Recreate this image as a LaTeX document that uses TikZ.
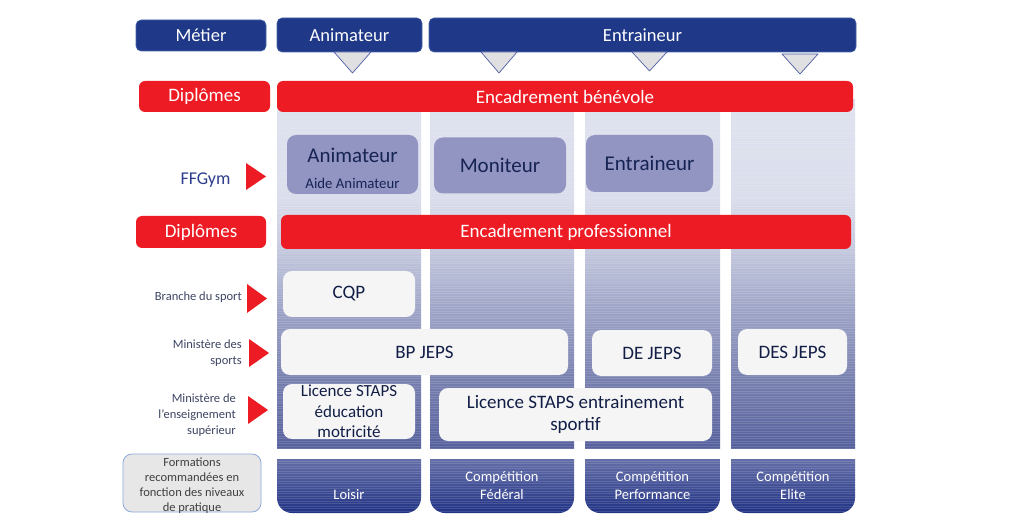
\documentclass[tikz,border=0pt]{standalone}
\usepackage{fontspec}
\setmainfont{Carlito}
\definecolor{navy}{RGB}{31,56,135}
\definecolor{navyedge}{RGB}{70,100,170}
\definecolor{redc}{RGB}{237,28,36}
\definecolor{lav}{RGB}{146,148,194}
\definecolor{fftext}{RGB}{22,36,84}
\definecolor{wfill}{RGB}{245,245,245}
\definecolor{wtext}{RGB}{18,30,70}
\definecolor{sidetext}{RGB}{62,70,100}
\definecolor{fftitle}{RGB}{46,62,140}
\definecolor{trifill}{RGB}{224,224,226}
\definecolor{triedge}{RGB}{80,96,165}
\definecolor{formfill}{RGB}{231,231,231}
\definecolor{formedge}{RGB}{143,170,220}
\definecolor{formtext}{RGB}{64,64,64}
\definecolor{colG}{RGB}{222,225,238}
\definecolor{colF}{RGB}{218,221,235}
\definecolor{colE}{RGB}{198,202,223}
\definecolor{colD}{RGB}{158,164,199}
\definecolor{colC}{RGB}{120,128,175}
\definecolor{colB}{RGB}{86,96,157}
\definecolor{botTop}{RGB}{100,110,168}
\definecolor{botBot}{RGB}{32,50,132}
\pgfdeclareverticalshading{colshade}{100bp}{color(0bp)=(colB); color(25bp)=(colB); color(35bp)=(colC); color(45bp)=(colD); color(54bp)=(colE); color(61bp)=(colF); color(75bp)=(colG); color(100bp)=(colG)}
\pgfdeclareverticalshading{botshade}{100bp}{color(0bp)=(botBot); color(25bp)=(botBot); color(75bp)=(botTop); color(100bp)=(botTop)}
\tikzset{
  bluebox/.style={fill=navy, draw=navyedge, line width=0.6pt, rounded corners=5pt, text=white, font=\fontsize{18.5}{22}\selectfont, inner sep=0pt},
  redbox/.style={fill=redc, rounded corners=6pt, text=white, font=\fontsize{19}{22}\selectfont, inner sep=0pt},
  ffbox/.style={fill=lav, rounded corners=9pt, text=fftext, font=\fontsize{21}{24}\selectfont, inner sep=0pt},
  fftxt/.style={text=fftext, inner sep=0pt},
  wbox/.style={fill=wfill, rounded corners=9pt, text=wtext, font=\fontsize{19}{22.7}\selectfont, inner sep=0pt, align=center},
  sidelab/.style={text=sidetext, font=\fontsize{12.5}{16}\selectfont, align=right, anchor=east, inner sep=0pt},
  rtri/.style={fill=redc},
  dtri/.style={fill=trifill, draw=triedge, line width=0.7pt, line join=round},
  colbar/.style={shading=colshade, inner sep=0pt},
  botbar/.style={shading=botshade},
  stripe/.style={white, opacity=0.13, line width=0.6pt},
  lvl/.style={text=white, font=\fontsize{14.5}{18}\selectfont, align=center, inner sep=0pt},
  formbox/.style={fill=formfill, draw=formedge, line width=0.8pt, rounded corners=9pt, inner sep=0pt},
  formtxt/.style={text=formtext, font=\fontsize{12.5}{15}\selectfont, align=center, inner sep=0pt}
}
\begin{document}
\begin{tikzpicture}[x=1pt,y=-1pt]
\useasboundingbox (0,0) rectangle (1020,521);
\fill[white] (0,0) rectangle (1020,521);
% columns
\node[colbar, minimum width=144pt, minimum height=348pt] (col1) at (349,274) {};
\node[colbar, minimum width=144pt, minimum height=348pt] (col2) at (502,274) {};
\node[colbar, minimum width=135pt, minimum height=348pt] (col3) at (652.5,274) {};
\node[colbar, minimum width=124pt, minimum height=348pt] (col4) at (793,274) {};
% bottom level boxes
\foreach \a/\b in {277/421,430/574,585/720,731/855}{
  \shade[botbar] (\a,459) -- (\a,498) .. controls (\a,506.3) and ({\a+6.7},513) .. ({\a+15},513) -- ({\b-15},513) .. controls ({\b-6.7},513) and (\b,506.3) .. (\b,498) -- (\b,459) -- cycle;
}
% horizontal line texture
\foreach \y in {101,103.5,...,513}{
  \draw[stripe] (277,\y) -- (855,\y);
}
\node[lvl] (l1) at (349,495) {Loisir};
\node[lvl] (l2) at (502,486) {Compétition\\Fédéral};
\node[lvl] (l3) at (652.5,486) {Compétition\\Performance};
\node[lvl] (l4) at (793,485.5) {Compétition\\Elite};
% top row
\node[bluebox, minimum width=130pt, minimum height=31pt] (metier) at (201,35.5) {Métier};
\node[bluebox, minimum width=145pt, minimum height=34pt] (animT) at (349.5,35) {Animateur};
\node[bluebox, minimum width=427pt, minimum height=34pt] (entrT) at (642.5,35) {Entraineur};
\draw[dtri] (334,52) -- (371,52) -- (352.5,73) -- cycle;
\draw[dtri] (481,52) -- (517,52) -- (499,73) -- cycle;
\draw[dtri] (632,52) -- (667,52) -- (649.5,71) -- cycle;
\draw[dtri] (782,54) -- (818,54) -- (800,74) -- cycle;
% red bars
\node[redbox, minimum width=131pt, minimum height=31pt] (dip1) at (204.5,96.5) {Diplômes};
\node[redbox, minimum width=576pt, minimum height=31pt] (bene) at (565,96.5) {Encadrement bénévole};
\node[redbox, minimum width=130pt, minimum height=32pt] (dip2) at (201,232) {Diplômes};
\node[redbox, minimum width=570pt, minimum height=34pt] (pro) at (566,232) {Encadrement professionnel};
% FFGym row
\node[text=fftitle, font=\fontsize{18}{20}\selectfont, inner sep=0pt] (ffg) at (205.5,180) {FFGym};
\fill[rtri] (246,163) -- (266,176.5) -- (246,190) -- cycle;
\node[ffbox, minimum width=131pt, minimum height=59pt] (ffa) at (352.5,164.5) {};
\node[fftxt, font=\fontsize{21}{24}\selectfont] (ffaT) at (352.5,155) {Animateur};
\node[fftxt, font=\fontsize{14.8}{17}\selectfont] (ffaS) at (352.5,183.5) {Aide Animateur};
\node[ffbox, minimum width=132pt, minimum height=56pt] (ffm) at (500,165.5) {Moniteur};
\node[ffbox, minimum width=127pt, minimum height=57pt] (ffe) at (649.5,163.5) {Entraineur};
% side labels
\node[sidelab] (lbr) at (242,297) {Branche du sport};
\fill[rtri] (247,284) -- (267,298.5) -- (247,313) -- cycle;
\node[sidelab] (lms) at (242,353) {Ministère des\\sports};
\fill[rtri] (249,339) -- (269,353) -- (249,367) -- cycle;
\node[sidelab] (lme) at (236,415) {Ministère de\\l’enseignement\\supérieur};
\fill[rtri] (248,396) -- (268,410) -- (248,424) -- cycle;
% diploma boxes
\node[wbox, minimum width=132pt, minimum height=46pt] (cqp) at (349,294) {CQP};
\node[wbox, minimum width=287pt, minimum height=46pt] (bp) at (424.5,352) {BP JEPS};
\node[wbox, minimum width=120pt, minimum height=46pt] (de) at (652,353) {DE JEPS};
\node[wbox, minimum width=109pt, minimum height=46pt] (des) at (792.5,352) {DES JEPS};
\node[wbox, font=\fontsize{17}{20.5}\selectfont, minimum width=132pt, minimum height=55pt] (lic1) at (349,411.5) {Licence STAPS\\éducation\\motricité};
\node[wbox, minimum width=273pt, minimum height=53pt] (lic2) at (575.5,414.5) {Licence STAPS entrainement\\sportif};
% formations box
\node[formbox, minimum width=138pt, minimum height=58pt] (form) at (192,483) {};
\node[formtxt] (formT) at (192,485.5) {Formations\\recommandées en\\fonction des niveaux\\de pratique};
\end{tikzpicture}
\end{document}
